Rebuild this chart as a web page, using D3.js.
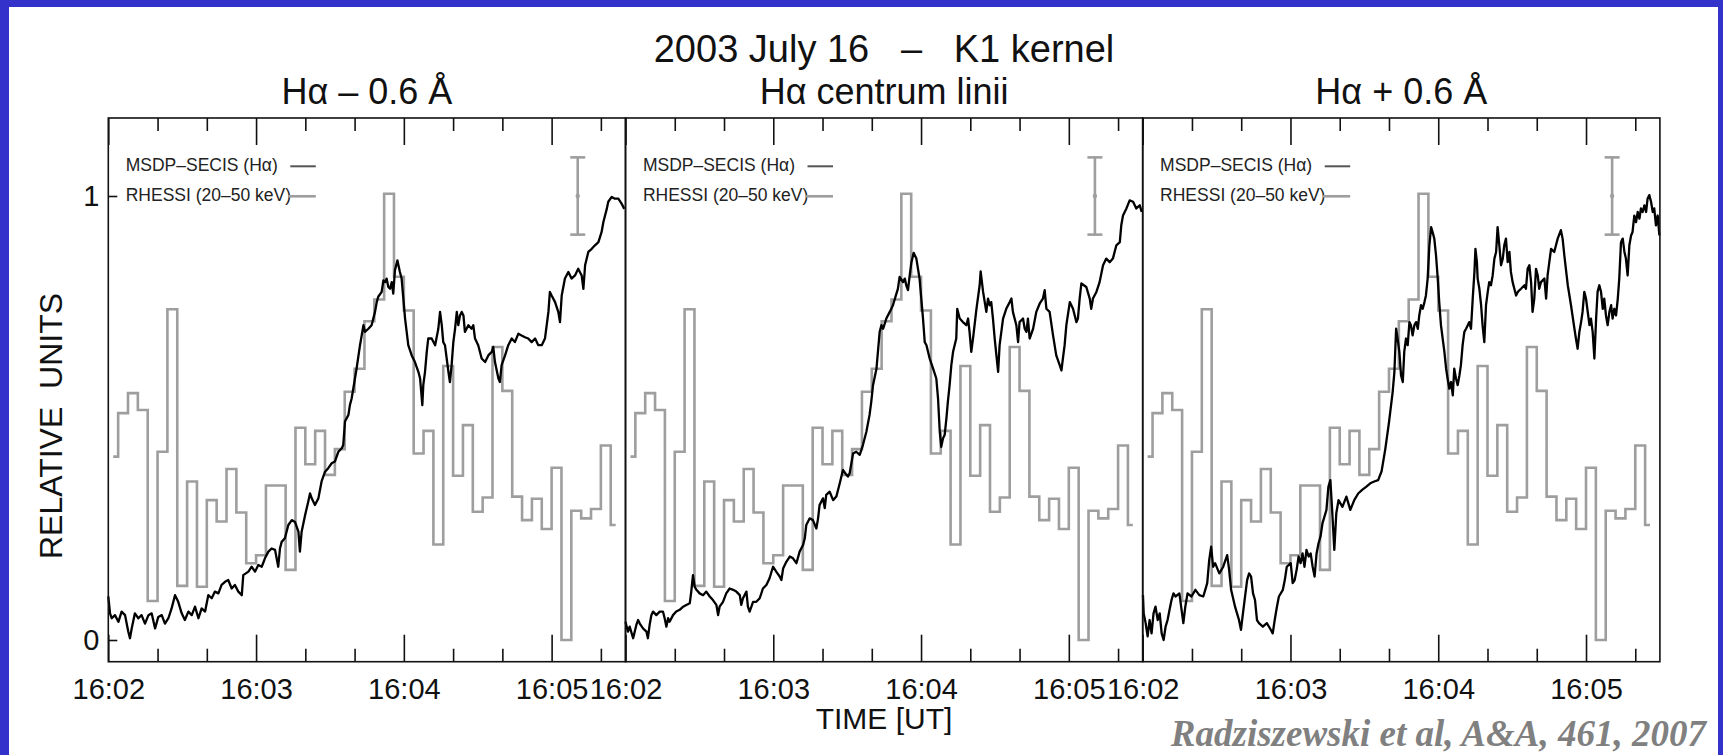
<!DOCTYPE html>
<html>
<head>
<meta charset="utf-8">
<script src="https://cdn.jsdelivr.net/npm/d3@7"></script>
<style>
  html, body { margin: 0; padding: 0; background: #3333cc; }
  svg { display: block; }
</style>
</head>
<body>
<svg id="chart" width="1723" height="755"></svg>
<script>
// ---- data -------------------------------------------------------------
const mainTitle = "2003 July 16   \u2013   K1 kernel";
const panelTitles = ["H\u03b1 \u2013 0.6 \u00c5", "H\u03b1 centrum linii", "H\u03b1 + 0.6 \u00c5"];
const tickLabels = ["16:02", "16:03", "16:04", "16:05"];
const majorTicks = [0, 60, 120, 180];            // seconds after 16:02:00
const minorTicks = [20, 40, 80, 100, 140, 160, 200];
const yTickValues = [0, 1];
const legendLabels = ["MSDP\u2013SECIS (H\u03b1)", "RHESSI (20\u201350 keV)"];
const errorBar = { t: 190.6, centre: 1.0, half: 0.087 };

// RHESSI 20-50 keV, 4 s accumulation (bin centres, s after 16:02:00)
const rhessiTime = [2, 6, 10, 14, 18, 22, 26, 30, 34, 38, 42, 46, 50, 54, 58, 62, 66,
  70, 74, 78, 82, 86, 90, 94, 98, 102, 106, 110, 114, 118, 122, 126, 130, 134, 138,
  142, 146, 150, 154, 158, 162, 166, 170, 174, 178, 182, 186, 190, 194, 198, 202, 206];
const rhessiValue = [0.413, 0.511, 0.556, 0.518, 0.088, 0.424, 0.745, 0.122, 0.357,
  0.120, 0.315, 0.267, 0.385, 0.287, 0.173, 0.191, 0.348, 0.348, 0.158, 0.478, 0.396,
  0.471, 0.372, 0.430, 0.559, 0.611, 0.718, 0.767, 1.005, 0.818, 0.742, 0.420, 0.471,
  0.215, 0.617, 0.370, 0.484, 0.289, 0.321, 0.660, 0.561, 0.323, 0.270, 0.318, 0.250,
  0.388, 0.000, 0.291, 0.274, 0.295, 0.438, 0.259];

// MSDP-SECIS H-alpha light curves: [seconds after 16:02:00, relative units]
const msdpBlue = [[0,0.098],[0.7,0.060],[1.4,0.049],[2.7,0.056],[4.1,0.041],[5.4,0.064],[6.8,0.056],[8.1,0.019],[8.8,0.004],[9.5,0.026],[10.8,0.060],[12.2,0.049],[13.5,0.056],[14.9,0.037],[16.3,0.056],[17.6,0.060],[19.0,0.026],[20.3,0.052],[21.7,0.056],[23.0,0.037],[24.4,0.049],[25.7,0.071],[27.1,0.101],[28.4,0.086],[29.8,0.060],[31.1,0.045],[32.5,0.064],[33.9,0.056],[35.2,0.075],[36.6,0.049],[37.9,0.071],[39.3,0.064],[40.6,0.101],[42.0,0.094],[43.3,0.109],[44.7,0.105],[46.0,0.124],[47.4,0.131],[48.7,0.135],[50.1,0.116],[51.4,0.124],[52.8,0.109],[54.2,0.101],[54.8,0.146],[56.9,0.154],[58.2,0.165],[59.6,0.154],[60.9,0.169],[62.3,0.165],[63.6,0.184],[65.0,0.199],[66.3,0.206],[67.7,0.203],[69.0,0.165],[69.7,0.206],[70.4,0.221],[71.7,0.229],[73.1,0.259],[74.5,0.270],[75.8,0.266],[77.2,0.244],[77.8,0.199],[78.5,0.244],[79.9,0.281],[81.2,0.312],[81.9,0.330],[82.6,0.319],[83.9,0.304],[85.3,0.319],[86.6,0.357],[88.0,0.379],[89.3,0.387],[90.7,0.398],[92.0,0.402],[93.4,0.424],[94.8,0.432],[95.4,0.439],[96.1,0.492],[97.5,0.507],[98.1,0.529],[98.8,0.544],[99.5,0.567],[100.8,0.611],[102.2,0.664],[103.6,0.709],[104.2,0.694],[105.6,0.701],[106.9,0.709],[108.3,0.739],[109.0,0.761],[109.6,0.773],[111.0,0.784],[111.7,0.810],[112.4,0.806],[113.0,0.814],[113.7,0.795],[114.4,0.791],[115.1,0.806],[115.7,0.780],[116.4,0.833],[117.4,0.855],[118.4,0.829],[119.1,0.814],[119.8,0.769],[120.5,0.724],[121.8,0.664],[123.2,0.641],[124.5,0.626],[125.9,0.604],[126.6,0.589],[127.5,0.529],[127.9,0.574],[128.6,0.604],[129.3,0.649],[129.9,0.679],[131.3,0.679],[132.7,0.664],[134.0,0.701],[134.7,0.739],[135.4,0.709],[136.0,0.671],[136.7,0.664],[138.1,0.604],[138.7,0.581],[139.4,0.619],[140.1,0.671],[140.8,0.701],[141.5,0.739],[142.1,0.709],[142.8,0.731],[143.5,0.739],[144.2,0.731],[144.8,0.694],[146.2,0.709],[147.5,0.701],[148.2,0.709],[148.9,0.679],[150.2,0.664],[151.6,0.634],[153.0,0.626],[154.3,0.641],[155.7,0.649],[156.3,0.660],[157.0,0.626],[158.4,0.589],[159.0,0.581],[159.7,0.619],[161.1,0.641],[162.4,0.664],[163.8,0.679],[165.1,0.671],[166.5,0.690],[167.8,0.686],[169.2,0.682],[170.5,0.679],[171.9,0.671],[173.3,0.679],[174.6,0.664],[176.0,0.664],[177.3,0.679],[178.7,0.739],[179.3,0.784],[180.0,0.776],[181.4,0.761],[182.7,0.739],[183.4,0.716],[184.1,0.776],[185.4,0.814],[186.8,0.829],[188.1,0.814],[189.5,0.821],[190.8,0.836],[192.2,0.821],[192.9,0.791],[193.6,0.844],[194.9,0.874],[196.3,0.881],[197.6,0.889],[199.0,0.896],[200.3,0.919],[201.0,0.941],[201.7,0.956],[202.4,0.971],[203.0,0.987],[204.4,0.998],[205.7,0.994],[207.1,0.994],[208.4,0.983],[209.5,0.971]];

const msdpCentre = [[0,0.041],[0.3,0.034],[1.0,0.019],[1.7,0.030],[3.1,0.004],[4.4,0.034],[5.1,0.045],[5.8,0.037],[7.1,0.026],[8.5,0.019],[9.1,0.004],[9.8,0.034],[10.5,0.056],[11.2,0.064],[12.5,0.056],[13.9,0.064],[15.2,0.064],[15.9,0.049],[16.6,0.030],[17.3,0.049],[17.9,0.041],[19.3,0.056],[20.6,0.064],[22.0,0.068],[23.4,0.075],[24.7,0.079],[26.1,0.083],[26.7,0.109],[27.4,0.146],[28.1,0.120],[28.8,0.113],[30.1,0.105],[31.5,0.101],[32.8,0.109],[34.2,0.098],[35.5,0.090],[36.9,0.079],[37.6,0.056],[38.2,0.075],[39.6,0.086],[40.9,0.105],[42.3,0.116],[43.7,0.113],[45.0,0.109],[46.4,0.101],[47.0,0.079],[47.7,0.094],[49.1,0.109],[49.7,0.075],[50.4,0.064],[51.8,0.086],[53.1,0.086],[54.5,0.094],[55.8,0.116],[57.2,0.124],[58.5,0.139],[59.9,0.165],[61.2,0.154],[62.6,0.143],[63.3,0.135],[64.0,0.161],[65.3,0.176],[66.7,0.188],[68.0,0.184],[69.4,0.173],[70.7,0.199],[72.1,0.214],[72.8,0.229],[73.4,0.259],[74.8,0.274],[76.1,0.270],[77.5,0.251],[78.2,0.274],[78.8,0.304],[80.2,0.319],[80.9,0.297],[81.5,0.327],[82.9,0.334],[84.3,0.315],[85.6,0.323],[87.0,0.353],[88.3,0.383],[89.7,0.372],[90.3,0.368],[91.0,0.375],[92.4,0.420],[93.7,0.424],[95.1,0.417],[96.4,0.439],[97.8,0.469],[99.1,0.507],[99.8,0.537],[100.5,0.574],[101.9,0.611],[103.2,0.694],[103.9,0.709],[104.6,0.701],[105.9,0.724],[107.3,0.739],[108.6,0.754],[110.0,0.780],[110.6,0.791],[111.3,0.818],[112.7,0.806],[113.4,0.814],[114.0,0.799],[114.7,0.788],[115.4,0.821],[116.1,0.851],[117.0,0.872],[118.1,0.859],[119.4,0.814],[120.1,0.769],[120.8,0.724],[121.5,0.671],[122.2,0.664],[123.5,0.634],[124.9,0.611],[126.2,0.589],[126.9,0.544],[127.6,0.469],[128.2,0.435],[128.9,0.454],[129.6,0.462],[130.3,0.499],[130.9,0.537],[131.6,0.574],[132.3,0.619],[133.0,0.649],[134.3,0.679],[134.7,0.746],[135.7,0.724],[137.0,0.716],[138.4,0.709],[139.1,0.724],[139.7,0.694],[140.4,0.649],[141.1,0.679],[142.5,0.746],[143.8,0.799],[144.2,0.830],[145.2,0.784],[146.5,0.739],[147.2,0.769],[147.9,0.754],[148.5,0.761],[149.2,0.724],[149.9,0.679],[150.6,0.641],[151.3,0.604],[151.9,0.664],[153.3,0.724],[154.6,0.746],[156.0,0.761],[156.7,0.769],[157.3,0.739],[158.7,0.709],[159.4,0.671],[160.0,0.716],[161.4,0.724],[162.1,0.701],[162.8,0.694],[163.4,0.724],[164.1,0.679],[165.5,0.701],[166.8,0.739],[168.2,0.758],[169.5,0.769],[170.2,0.788],[170.9,0.746],[172.2,0.739],[173.6,0.686],[174.9,0.641],[176.3,0.619],[177.0,0.607],[177.6,0.634],[178.3,0.664],[179.0,0.709],[180.4,0.761],[181.7,0.746],[183.1,0.716],[183.7,0.724],[184.4,0.769],[185.1,0.803],[187.1,0.795],[188.5,0.769],[189.1,0.746],[189.8,0.769],[191.2,0.784],[192.5,0.806],[193.9,0.844],[195.2,0.859],[196.6,0.851],[197.9,0.859],[199.3,0.889],[200.7,0.896],[201.3,0.934],[202.0,0.956],[203.4,0.972],[204.7,0.990],[206.1,0.987],[207.4,0.972],[208.8,0.979],[209.6,0.964]];

const msdpRed = [[0.1,0.101],[0.4,0.060],[1.2,0.038],[2.0,0.008],[2.8,0.045],[3.6,0.015],[4.4,0.060],[5.2,0.075],[6.1,0.045],[6.9,0.060],[7.7,0.015],[8.5,0.000],[9.3,0.030],[10.1,0.045],[10.9,0.068],[11.7,0.090],[12.5,0.105],[13.3,0.098],[14.9,0.105],[16.5,0.038],[17.3,0.075],[18.2,0.105],[19.8,0.098],[21.4,0.113],[23.0,0.101],[24.6,0.098],[25.4,0.113],[26.2,0.128],[27.0,0.180],[27.8,0.210],[28.6,0.165],[29.4,0.173],[31.1,0.150],[32.7,0.165],[34.3,0.191],[35.1,0.158],[35.9,0.113],[37.5,0.075],[38.3,0.060],[39.1,0.045],[39.9,0.023],[40.7,0.060],[42.4,0.135],[43.2,0.150],[44.0,0.143],[44.8,0.105],[45.6,0.090],[46.4,0.045],[47.2,0.038],[48.8,0.030],[50.4,0.038],[52.0,0.023],[52.8,0.015],[53.6,0.045],[54.5,0.075],[55.3,0.098],[56.9,0.113],[57.7,0.135],[58.5,0.165],[60.1,0.173],[60.9,0.128],[61.7,0.135],[62.5,0.158],[63.3,0.188],[64.1,0.173],[64.9,0.195],[65.7,0.165],[66.5,0.203],[67.4,0.188],[68.2,0.195],[69.0,0.165],[69.8,0.143],[70.6,0.195],[71.4,0.218],[72.2,0.233],[73.0,0.263],[73.8,0.278],[74.6,0.293],[75.4,0.345],[76.2,0.360],[77.0,0.285],[77.8,0.203],[78.6,0.285],[79.5,0.315],[81.1,0.300],[82.7,0.323],[84.3,0.293],[85.9,0.315],[87.5,0.330],[89.1,0.338],[90.7,0.345],[92.4,0.353],[94.0,0.357],[95.6,0.360],[97.0,0.380],[98.5,0.430],[100.0,0.490],[101.5,0.559],[102.2,0.604],[102.9,0.701],[103.5,0.679],[104.2,0.649],[104.9,0.596],[105.6,0.581],[106.2,0.649],[106.9,0.679],[107.6,0.664],[108.3,0.716],[108.9,0.709],[109.6,0.686],[110.3,0.709],[111.0,0.716],[111.7,0.701],[112.3,0.731],[113.0,0.754],[113.7,0.746],[114.4,0.761],[115.0,0.776],[115.7,0.814],[116.4,0.889],[117.1,0.930],[117.7,0.919],[118.4,0.904],[119.1,0.866],[119.8,0.814],[120.4,0.761],[121.1,0.709],[122.5,0.649],[123.2,0.611],[123.8,0.589],[124.5,0.566],[125.2,0.581],[125.9,0.551],[126.5,0.611],[127.2,0.589],[127.9,0.574],[128.6,0.596],[129.2,0.619],[129.9,0.664],[130.6,0.694],[131.3,0.701],[132.0,0.709],[132.6,0.716],[133.3,0.701],[134.0,0.769],[134.7,0.829],[135.1,0.881],[135.7,0.851],[136.0,0.814],[136.7,0.791],[137.4,0.754],[138.0,0.709],[138.7,0.671],[139.4,0.754],[140.1,0.784],[140.7,0.806],[141.4,0.799],[142.1,0.821],[142.8,0.859],[143.5,0.874],[144.1,0.930],[144.8,0.889],[145.5,0.844],[146.2,0.859],[146.8,0.889],[147.5,0.904],[148.2,0.851],[148.9,0.874],[149.5,0.829],[150.2,0.806],[150.9,0.791],[151.6,0.776],[152.3,0.784],[153.6,0.791],[155.0,0.799],[155.6,0.791],[156.3,0.836],[157.0,0.844],[157.7,0.806],[158.3,0.739],[159.0,0.769],[159.7,0.836],[160.4,0.821],[161.0,0.791],[161.7,0.806],[163.1,0.814],[163.8,0.769],[164.4,0.821],[165.1,0.851],[165.8,0.881],[167.1,0.874],[168.5,0.904],[169.8,0.923],[170.5,0.904],[171.2,0.866],[172.6,0.799],[173.9,0.754],[175.3,0.701],[175.9,0.679],[176.6,0.656],[177.3,0.694],[178.0,0.716],[178.6,0.739],[179.3,0.784],[180.0,0.769],[180.7,0.739],[181.4,0.709],[182.0,0.724],[182.7,0.694],[183.4,0.634],[184.1,0.724],[184.7,0.784],[185.4,0.799],[186.1,0.784],[186.8,0.746],[187.4,0.769],[188.1,0.731],[188.8,0.709],[189.5,0.739],[190.2,0.754],[190.8,0.724],[191.5,0.746],[192.2,0.731],[192.9,0.769],[193.5,0.814],[194.2,0.896],[194.9,0.904],[195.6,0.874],[196.2,0.859],[196.9,0.821],[197.6,0.889],[198.3,0.911],[198.9,0.919],[199.6,0.956],[200.3,0.941],[201.0,0.964],[201.7,0.949],[202.3,0.972],[203.0,0.964],[203.7,0.979],[204.4,0.964],[205.0,0.994],[205.7,1.002],[206.4,0.987],[207.1,0.964],[207.7,0.972],[208.4,0.934],[209.1,0.956],[209.8,0.911]];

const msdpSeries = [msdpBlue, msdpCentre, msdpRed];

// ---- layout -----------------------------------------------------------
const W = 1723, H = 755;
const panelLeft = [108.3, 625.5, 1142.7];
const panelWidth = 517.2;
const timeSpan = [0, 210];            // 16:02:00 - 16:05:30
const frameTopValue = 1.1757, frameBottomValue = -0.0489;
const SANS = "'Liberation Sans', Arial, Helvetica, sans-serif";
const SERIF = "'Liberation Serif', 'Times New Roman', Times, serif";

const svg = d3.select("#chart");

// slide background with white plotting page
svg.append("rect").attr("width", W).attr("height", H).attr("fill", "#3333cc");
svg.append("rect").attr("x", 9).attr("y", 7).attr("width", 1709).attr("height", H - 7).attr("fill", "#ffffff");

const y = d3.scaleLinear().domain([0, 1]).range([640, 196]);
const yTop = y(frameTopValue), yBottom = y(frameBottomValue);

const addText = (parent, str, size) => parent.append("text")
  .style("font-family", SANS)
  .style("white-space", "pre")
  .attr("font-size", size)
  .attr("fill", "#111")
  .text(str);

// title
addText(svg, mainTitle, 38).attr("x", 884).attr("y", 62).attr("text-anchor", "middle");

msdpSeries.forEach((series, i) => {
  const x = d3.scaleLinear().domain(timeSpan).range([panelLeft[i], panelLeft[i] + panelWidth]);
  const g = svg.append("g");

  // panel title
  addText(g, panelTitles[i], 36)
    .attr("x", panelLeft[i] + panelWidth / 2).attr("y", 104)
    .attr("text-anchor", "middle");

  // RHESSI histogram
  const rhessi = rhessiTime.map((t, k) => [t, rhessiValue[k]]);
  g.append("path")
    .datum(rhessi)
    .attr("fill", "none")
    .attr("stroke", "#9e9e9e")
    .attr("stroke-width", 2.6)
    .attr("d", d3.line().x(d => x(d[0])).y(d => y(d[1])).curve(d3.curveStep));

  // MSDP light curve
  g.append("path")
    .datum(series)
    .attr("fill", "none")
    .attr("stroke", "#000")
    .attr("stroke-width", 2.3)
    .attr("stroke-linejoin", "round")
    .attr("d", d3.line().x(d => x(d[0])).y(d => y(d[1])));

  // error bar
  const eb = g.append("g").attr("stroke", "#9e9e9e").attr("stroke-width", 2.6);
  const ex = x(errorBar.t);
  eb.append("line").attr("x1", ex).attr("x2", ex)
    .attr("y1", y(errorBar.centre + errorBar.half)).attr("y2", y(errorBar.centre - errorBar.half));
  [errorBar.centre + errorBar.half, errorBar.centre - errorBar.half].forEach(v => {
    eb.append("line").attr("x1", ex - 7.5).attr("x2", ex + 7.5).attr("y1", y(v)).attr("y2", y(v));
  });
  g.append("circle").attr("cx", ex).attr("cy", y(errorBar.centre)).attr("r", 2.2).attr("fill", "#9e9e9e");

  // legend
  const lx = panelLeft[i];
  [0, 1].forEach(k => {
    addText(g, legendLabels[k], 17.5)
      .attr("x", lx + 17.4).attr("y", 171.3 + 30 * k)
      .attr("fill", "#222");
    g.append("line")
      .attr("x1", lx + (k ? 180 : 182)).attr("x2", lx + 207.5)
      .attr("y1", 166.3 + 30 * k).attr("y2", 166.3 + 30 * k)
      .attr("stroke", k ? "#9e9e9e" : "#555")
      .attr("stroke-width", k ? 2.6 : 2);
  });

  // frame
  g.append("rect")
    .attr("x", panelLeft[i]).attr("y", yTop)
    .attr("width", panelWidth).attr("height", yBottom - yTop)
    .attr("fill", "none").attr("stroke", "#111").attr("stroke-width", 1.6);

  // time axes (bottom with labels, top mirrored); ticks point inward
  const styleAxis = sel => {
    sel.select(".domain").remove();
    sel.selectAll(".tick line").attr("stroke", "#111").attr("stroke-width", 1.6);
  };
  g.append("g").attr("transform", `translate(0,${yBottom})`)
    .call(d3.axisBottom(x).tickValues(majorTicks).tickSize(-27).tickFormat((d, k) => tickLabels[k]))
    .call(styleAxis)
    .call(sel => sel.selectAll(".tick text")
      .attr("y", 37).attr("dy", 0)
      .attr("font-size", 29).attr("fill", "#111")
      .style("font-family", SANS));
  g.append("g").attr("transform", `translate(0,${yBottom})`)
    .call(d3.axisBottom(x).tickValues(minorTicks).tickSize(-13).tickFormat(""))
    .call(styleAxis);
  g.append("g").attr("transform", `translate(0,${yTop})`)
    .call(d3.axisTop(x).tickValues(majorTicks).tickSize(-27).tickFormat(""))
    .call(styleAxis);
  g.append("g").attr("transform", `translate(0,${yTop})`)
    .call(d3.axisTop(x).tickValues(minorTicks).tickSize(-13).tickFormat(""))
    .call(styleAxis);

  if (i === 0) {
    g.append("g").attr("transform", `translate(${panelLeft[0]},0)`)
      .call(d3.axisLeft(y).tickValues(yTickValues).tickSize(-9).tickPadding(9).tickFormat(d3.format("d")))
      .call(styleAxis)
      .call(sel => sel.selectAll(".tick text")
        .attr("font-size", 29).attr("fill", "#111")
        .style("font-family", SANS));
  }
});

// axis titles
addText(svg, "TIME [UT]", 30).attr("x", 884).attr("y", 729).attr("text-anchor", "middle");
addText(svg, "RELATIVE  UNITS", 32)
  .attr("transform", "translate(62,426) rotate(-90)")
  .attr("text-anchor", "middle");

// reference
svg.append("text")
  .attr("x", 1706).attr("y", 746)
  .attr("text-anchor", "end")
  .style("font-family", SERIF)
  .style("font-weight", "bold").style("font-style", "italic")
  .attr("font-size", 37).attr("fill", "#808080")
  .text("Radziszewski et al, A&A, 461, 2007");
</script>
</body>
</html>
